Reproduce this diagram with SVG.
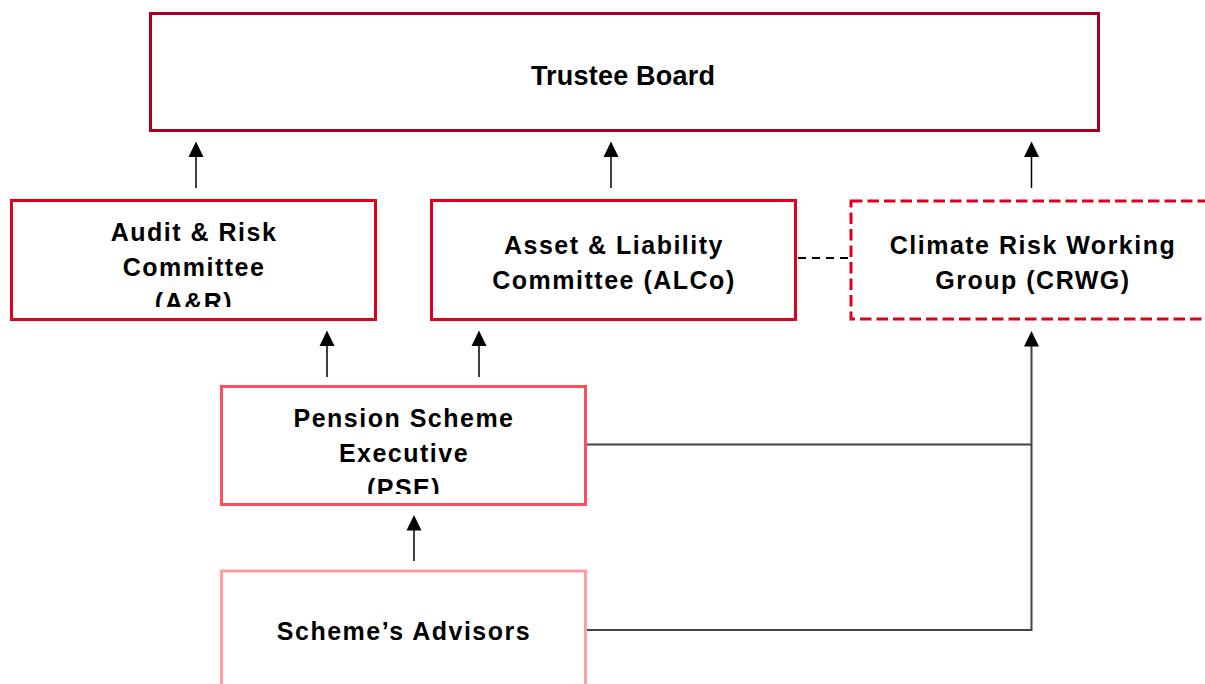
<svg xmlns="http://www.w3.org/2000/svg" width="1205" height="684" viewBox="0 0 1205 684">
  <style>
    .box { fill: #ffffff; stroke-width: 3; }
    .lbl { font-family: "Liberation Sans", Arial, sans-serif; font-weight: bold; font-size: 25px; fill: #000000; text-anchor: middle; letter-spacing: 1.5px; }
    .title { font-size: 27px; letter-spacing: 0.2px; }
    .link { stroke: #444444; stroke-width: 2; fill: none; }
    .shaft { stroke: #000000; stroke-width: 1.5; }
    .tip { fill: #000000; }
  </style>
  <defs>
    <clipPath id="clipAR"><rect x="11" y="200" width="365" height="107"/></clipPath>
    <clipPath id="clipPSE"><rect x="221" y="386" width="365" height="108"/></clipPath>
  </defs>

  <rect width="1205" height="684" fill="#ffffff"/>

  <!-- connectors -->
  <g id="connectors">
    <!-- upward arrows: shaft + filled triangle tip -->
    <line class="shaft" x1="196" y1="188" x2="196" y2="155"/>
    <polygon class="tip" points="196,141.5 188.5,157 203.5,157"/>
    <line class="shaft" x1="611" y1="188" x2="611" y2="155"/>
    <polygon class="tip" points="611,141.5 603.5,157 618.5,157"/>
    <line class="shaft" x1="1031.5" y1="188" x2="1031.5" y2="155"/>
    <polygon class="tip" points="1031.5,141.5 1024,157 1039,157"/>
    <line class="shaft" x1="327" y1="377" x2="327" y2="344"/>
    <polygon class="tip" points="327,330.5 319.5,346 334.5,346"/>
    <line class="shaft" x1="479" y1="377" x2="479" y2="344"/>
    <polygon class="tip" points="479,330.5 471.5,346 486.5,346"/>
    <line class="shaft" x1="414" y1="561" x2="414" y2="528"/>
    <polygon class="tip" points="414,515 406.5,530.5 421.5,530.5"/>
    <!-- feeds into the working group -->
    <polyline class="link" points="587,444.5 1031.5,444.5"/>
    <polyline class="link" points="587,630 1031.5,630 1031.5,344"/>
    <polygon class="tip" points="1031.5,331 1024,346.5 1039,346.5"/>
    <!-- dashed liaison between ALCo and CRWG -->
    <line x1="798" y1="258" x2="849" y2="258" stroke="#000000" stroke-width="2" stroke-dasharray="8 6"/>
  </g>

  <g id="trustee-board">
    <rect class="box" x="150.5" y="13.5" width="948" height="117" stroke="#a8001e"/>
    <text class="lbl title" x="623" y="84.5">Trustee Board</text>
  </g>

  <g id="audit-risk">
    <rect class="box" x="11.5" y="200.5" width="364" height="119" stroke="#e0001b"/>
    <g clip-path="url(#clipAR)">
      <text class="lbl" x="194" y="240.5">Audit &amp; Risk</text>
      <text class="lbl" x="194" y="275.5">Committee</text>
      <text class="lbl" x="194" y="310.5">(A&amp;R)</text>
    </g>
  </g>

  <g id="alco">
    <rect class="box" x="431.5" y="200.5" width="364" height="119" stroke="#e0001b"/>
    <text class="lbl" x="614" y="254">Asset &amp; Liability</text>
    <text class="lbl" x="614" y="288.5">Committee (ALCo)</text>
  </g>

  <g id="crwg">
    <rect class="box" x="851" y="201" width="372" height="118" stroke="#e0001b" stroke-dasharray="11.5 5"/>
    <text class="lbl" x="1033" y="254">Climate Risk Working</text>
    <text class="lbl" x="1033" y="288.5">Group (CRWG)</text>
  </g>

  <g id="pse">
    <rect class="box" x="221.5" y="386.5" width="364" height="118" stroke="#ff4d5c"/>
    <g clip-path="url(#clipPSE)">
      <text class="lbl" x="404" y="427">Pension Scheme</text>
      <text class="lbl" x="404" y="462">Executive</text>
      <text class="lbl" x="404" y="497">(PSE)</text>
    </g>
  </g>

  <g id="advisors">
    <rect class="box" x="221.5" y="571" width="364" height="130" stroke="#ff9aa2"/>
    <text class="lbl" x="404" y="640">Scheme’s Advisors</text>
  </g>
</svg>
